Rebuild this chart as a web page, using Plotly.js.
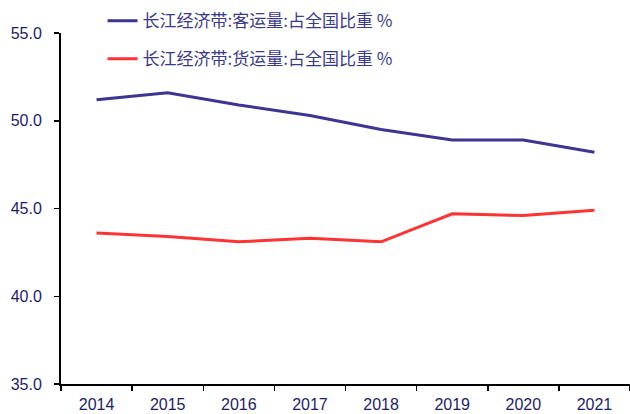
<!DOCTYPE html>
<html><head><meta charset="utf-8">
<script src="https://cdn.plot.ly/plotly-3.0.1.min.js"></script>
<style>body{margin:0;background:#fff}#c{width:630px;height:414px}</style>
</head><body><div id="c"></div>
<script>
const years = ['2014','2015','2016','2017','2018','2019','2020','2021'];
const passengerShare = [51.2, 51.6, 50.9, 50.3, 49.5, 48.9, 48.9, 48.2];
const freightShare = [43.6, 43.4, 43.1, 43.3, 43.1, 44.7, 44.6, 44.9];
const seriesNames = ['长江经济带:客运量:占全国比重 %', '长江经济带:货运量:占全国比重 %'];

const traces = [
  {x: years, y: passengerShare, name: seriesNames[0], type: 'scatter', mode: 'lines',
   line: {color: '#3d3494', width: 3}, legendgroup: 'a'},
  {x: years, y: freightShare, name: seriesNames[1], type: 'scatter', mode: 'lines',
   line: {color: '#ff3333', width: 3}, legendgroup: 'b'}
];
const tickFont = {family: 'Liberation Sans, Arial, sans-serif', size: 16, color: '#1c1c6b'};
const layout = {
  width: 630, height: 414,
  margin: {l: 61, r: 0, t: 33, b: 30},
  paper_bgcolor: '#fff', plot_bgcolor: '#fff',
  showlegend: true,
  legend: {x: 0.073, y: 1.085, xanchor: 'left', yanchor: 'top', bgcolor: 'rgba(0,0,0,0)',
    font: {family: 'Noto Sans CJK SC, sans-serif', size: 17, color: '#3a3a8c'},
    tracegroupgap: 13, traceorder: 'grouped', itemwidth: 30},
  xaxis: {type: 'category', range: [-0.5, 7.5], showline: true, linecolor: '#000', linewidth: 2,
    ticks: 'outside', tickson: 'boundaries', ticklen: 5, tickcolor: '#000', tickwidth: 1.5,
    ticklabelstandoff: 5,
    showgrid: false, zeroline: false, tickfont: tickFont, fixedrange: true},
  yaxis: {range: [35, 55], dtick: 5, tickformat: '.1f', showline: true, linecolor: '#000', linewidth: 2,
    ticks: 'outside', ticklen: 5, tickcolor: '#000', tickwidth: 1.5,
    ticklabelstandoff: 9,
    showgrid: false, zeroline: false, tickfont: tickFont, fixedrange: true}
};
Plotly.newPlot('c', traces, layout, {displayModeBar: false, staticPlot: true});
</script></body></html>
